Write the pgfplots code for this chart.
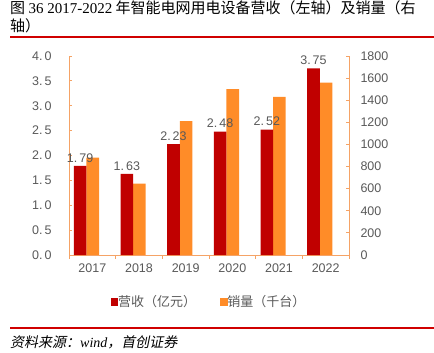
\documentclass[border=0pt]{standalone}
\usepackage{pgfplots}
\pgfplotsset{compat=1.18}
\usepackage{fontspec}
\setmainfont{Liberation Sans}
\newfontfamily\cjk{Noto Sans CJK SC}
\newfontfamily\cjkslant[FakeSlant=0.2]{Noto Sans CJK SC}
\newfontfamily\serif{Liberation Serif}
\definecolor{cRed}{HTML}{C00000}
\definecolor{cOrange}{HTML}{FF8C28}
\definecolor{axisOrange}{HTML}{F5A366}
\definecolor{txtGray}{HTML}{595959}
\definecolor{ruleRed}{HTML}{D00000}
\newcommand{\dl}[2]{#1.\hspace{2bp}#2}
\begin{document}
\begin{tikzpicture}
\path[use as bounding box] (0bp,0bp) rectangle (434bp,353bp);
\node[anchor=base west,inner sep=0] at (10bp,339bp) {\fontsize{15bp}{18bp}\selectfont\cjk 图 {\serif 36 2017-2022} 年智能电网用电设备营收（左轴）及销量（右};
\node[anchor=base west,inner sep=0] at (10bp,321bp) {\fontsize{15bp}{18bp}\selectfont\cjk 轴）};
\draw[ruleRed,line width=1.5bp] (10bp,316bp) -- (434bp,316bp);
\draw[ruleRed,line width=1.5bp] (10bp,25bp) -- (434bp,25bp);
\node[anchor=base west,inner sep=0] at (10bp,6bp) {\fontsize{14bp}{16bp}\selectfont\cjkslant 资料来源：{\serif\itshape wind}，首创证券};

% right axis: sales (drawn first so labels of the left axis lie on top)
\begin{axis}[
  at={(69bp,98bp)}, anchor=south west,
  scale only axis, width=280bp, height=199bp,
  xmin=-0.5, xmax=5.5, ymin=0, ymax=1800,
  axis y line*=right, axis x line=none,
  axis line style={axisOrange, line width=0.8bp},
  tick align=inside,
  ytick={0,200,...,1800},
  /pgf/number format/assume math mode=true,
  /pgf/number format/1000 sep={},
  major tick length=3bp,
  y tick style={axisOrange, line width=0.8bp},
  tick label style={font=\fontsize{12.5bp}{14bp}\selectfont, text=txtGray},
  yticklabel style={xshift=8bp},
  ybar, bar width=12.6bp,
  clip=false,
]
\addplot[ybar, bar shift=0.4bp, fill=cOrange, draw=none]
  coordinates {(0,880) (1,645) (2,1210) (3,1500) (4,1430) (5,1560)};
\end{axis}

% left axis: revenue
\begin{axis}[
  at={(69bp,98bp)}, anchor=south west,
  scale only axis, width=280bp, height=199bp,
  xmin=-0.5, xmax=5.5, ymin=0, ymax=4,
  axis y line*=left, axis x line*=bottom,
  axis line style={axisOrange, line width=0.8bp},
  tick align=inside,
  xtick={0,...,5},
  xticklabels={2017,2018,2019,2020,2021,2022},
  major x tick style={draw=none},
  minor xtick={-0.5,0.5,1.5,2.5,3.5,4.5,5.5},
  minor tick length=4bp,
  minor x tick style={axisOrange, line width=0.8bp},
  ytick={0,0.5,...,4},
  yticklabels={\dl{0}{0},\dl{0}{5},\dl{1}{0},\dl{1}{5},\dl{2}{0},\dl{2}{5},\dl{3}{0},\dl{3}{5},\dl{4}{0}},
  major tick length=3bp,
  y tick style={axisOrange, line width=0.8bp},
  tick label style={font=\fontsize{12.5bp}{14bp}\selectfont, text=txtGray},
  yticklabel style={xshift=-14bp},
  xticklabel style={yshift=-2bp},
  ybar, bar width=12.6bp,
  legend style={draw=none, fill=none, at={(0.5,-0.236)}, anchor=center,
    legend columns=2, font=\fontsize{13bp}{15bp}\selectfont\cjk, text=txtGray,
    /tikz/every even column/.append style={column sep=22bp},
    /tikz/every odd column/.append style={column sep=-2bp}},
  legend image code/.code={\fill (0bp,-3.7bp) rectangle (7.5bp,3.7bp);},
  clip=false,
]
\addplot[ybar, bar shift=-12.2bp, fill=cRed, draw=none,
  point meta=explicit symbolic,
  nodes near coords,
  every node near coord/.append style={font=\fontsize{12.5bp}{14bp}\selectfont, text=txtGray}]
  coordinates {(0,1.79) [\dl{1}{79}] (1,1.63) [\dl{1}{63}] (2,2.23) [\dl{2}{23}] (3,2.48) [\dl{2}{48}] (4,2.52) [\dl{2}{52}] (5,3.75) [\dl{3}{75}]};
\addlegendentry{营收（亿元）}
\addlegendimage{fill=cOrange, draw=none}
\addlegendentry{销量（千台）}
\end{axis}
\end{tikzpicture}
\end{document}
